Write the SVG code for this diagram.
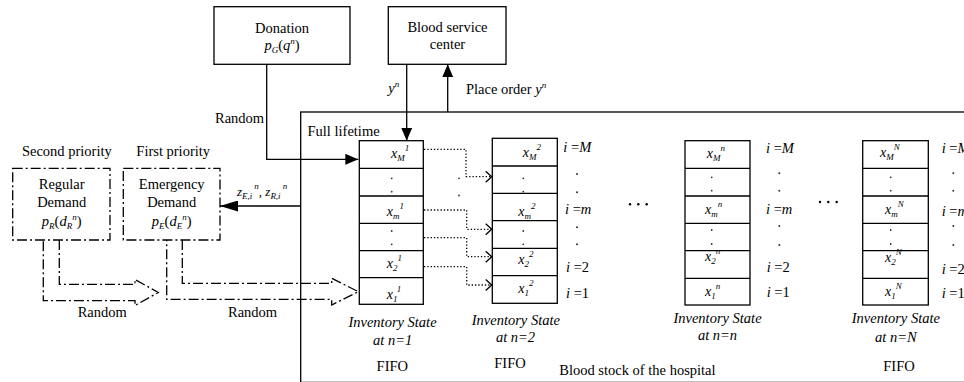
<svg xmlns="http://www.w3.org/2000/svg" width="964" height="382" viewBox="0 0 964 382">
<style>
text{font-family:"Liberation Serif","Times New Roman",serif;fill:#000}
.t{font-size:14.5px}
.c{text-anchor:middle}
.i{font-style:italic}
.m{font-size:14px;font-style:italic}
.s{font-size:9px}
.z{font-size:13px;font-style:italic}
.box{fill:#fff;stroke:#000;stroke-width:1.3}
.open{fill:none;stroke:#000;stroke-width:1.3}
.dd{fill:none;stroke:#000;stroke-width:1.3;stroke-dasharray:10 3 2 3}
.ln{fill:none;stroke:#000;stroke-width:1.3}
.dot{fill:none;stroke:#000;stroke-width:1.3;stroke-dasharray:1.3 2}
.cell{fill:none;stroke:#000;stroke-width:1.3}
.pt{fill:#333}
</style>
<defs>
<marker id="ah" markerUnits="userSpaceOnUse" markerWidth="13" markerHeight="11" refX="13" refY="5.5" orient="auto"><path d="M0,0 L13,5.5 L0,11 z" fill="#000"/></marker>
<marker id="ahz" markerUnits="userSpaceOnUse" markerWidth="18" markerHeight="11" refX="18" refY="5.5" orient="auto"><path d="M0,0 L18,5.5 L0,11 z" fill="#000"/></marker>
<marker id="ch" markerUnits="userSpaceOnUse" markerWidth="8" markerHeight="13" refX="7" refY="6.5" orient="auto" overflow="visible"><path d="M1,1 L7,6.5 L1,12" fill="none" stroke="#000" stroke-width="1.3" stroke-dasharray="none"/></marker>
</defs>

<g id="hospital">
<rect x="300.7" y="112" width="700" height="270.4" class="open"/>
<text class="t" x="307.5" y="136">Full lifetime</text>
<text class="t" x="559.3" y="374.5">Blood stock of the hospital</text>
</g>

<g id="donation">
<rect x="214" y="6.7" width="136" height="57.6" class="box"/>
<text class="t c" x="282" y="32.5">Donation</text>
<text class="t c" x="282" y="50"><tspan class="i">p</tspan><tspan class="s i" dy="3">G</tspan><tspan dy="-3">(</tspan><tspan class="i">q</tspan><tspan class="s i" dy="-6">n</tspan><tspan dy="6">)</tspan></text>
</g>

<g id="blood-service-center">
<rect x="388.3" y="6.7" width="117.7" height="57.6" class="box"/>
<text class="t c" x="447.5" y="31.7">Blood service</text>
<text class="t c" x="447.5" y="48.8">center</text>
</g>

<g id="regular-demand">
<text class="t c" x="66.8" y="156">Second priority</text>
<rect x="12.7" y="168.3" width="97.3" height="71.7" class="dd"/>
<text class="t c" x="61.7" y="189.3">Regular</text>
<text class="t c" x="61.7" y="207">Demand</text>
<text class="t c" x="61.7" y="225.5"><tspan class="i">p</tspan><tspan class="s i" dy="3">R</tspan><tspan dy="-3">(</tspan><tspan class="i">d</tspan><tspan class="s i" dy="3">R</tspan><tspan class="s i" dy="-9">n</tspan><tspan dy="6">)</tspan></text>
</g>

<g id="emergency-demand">
<text class="t c" x="173.2" y="156">First priority</text>
<rect x="123.3" y="168.3" width="96.7" height="71.7" class="dd"/>
<text class="t c" x="171.7" y="189.3">Emergency</text>
<text class="t c" x="171.7" y="207">Demand</text>
<text class="t c" x="171.7" y="225.5"><tspan class="i">p</tspan><tspan class="s i" dy="3">E</tspan><tspan dy="-3">(</tspan><tspan class="i">d</tspan><tspan class="s i" dy="3">E</tspan><tspan class="s i" dy="-9">n</tspan><tspan dy="6">)</tspan></text>
</g>

<g id="inventory-n1">
<rect x="359.3" y="140.7" width="64" height="163.6" class="cell"/>
<path class="cell" d="M359.3,168.3H423.3M359.3,196H423.3M359.3,223.3H423.3M359.3,250.7H423.3M359.3,277.7H423.3"/>
<text class="m" x="391" y="158">x<tspan class="s" dy="3">M</tspan><tspan class="s" dy="-10">1</tspan></text>
<circle class="pt" cx="391.7" cy="178.3" r="0.9"/><circle class="pt" cx="391.7" cy="191.7" r="0.9"/>
<text class="m" x="386.7" y="216">x<tspan class="s" dy="3">m</tspan><tspan class="s" dy="-10">1</tspan></text>
<circle class="pt" cx="391.7" cy="231" r="0.9"/><circle class="pt" cx="391.7" cy="244.3" r="0.9"/>
<text class="m" x="386.7" y="268">x<tspan class="s" dy="3">2</tspan><tspan class="s" dy="-10">1</tspan></text>
<text class="m" x="386.7" y="299">x<tspan class="s" dy="2.5">1</tspan><tspan class="s" dy="-9.5">1</tspan></text>
<text class="t c i" x="392.5" y="326.7">Inventory State</text>
<text class="t c i" x="392.7" y="345">at n=1</text>
<text class="t c" x="392.3" y="370.7">FIFO</text>
</g>

<g id="inventory-n2">
<rect x="492.3" y="138.3" width="65" height="165" class="cell"/>
<path class="cell" d="M492.3,166H557.3M492.3,193.3H557.3M492.3,220.7H557.3M492.3,248.3H557.3M492.3,275.7H557.3"/>
<text class="m" x="522.7" y="157">x<tspan class="s" dy="3">M</tspan><tspan class="s" dy="-10">2</tspan></text>
<circle class="pt" cx="523.3" cy="178.3" r="0.9"/><circle class="pt" cx="523.3" cy="191.7" r="0.9"/>
<text class="m" x="518.3" y="215.7">x<tspan class="s" dy="3">m</tspan><tspan class="s" dy="-10">2</tspan></text>
<circle class="pt" cx="523.3" cy="231" r="0.9"/><circle class="pt" cx="523.3" cy="244.3" r="0.9"/>
<text class="m" x="518.3" y="264">x<tspan class="s" dy="3">2</tspan><tspan class="s" dy="-10">2</tspan></text>
<text class="m" x="518.3" y="293">x<tspan class="s" dy="2.5">1</tspan><tspan class="s" dy="-9.5">2</tspan></text>
<text class="t" x="563.3" y="152"><tspan class="i">i</tspan> =<tspan class="i">M</tspan></text>
<circle class="pt" cx="577" cy="174" r="1"/><circle class="pt" cx="577" cy="192.3" r="1"/>
<text class="t" x="565" y="214.3"><tspan class="i">i</tspan> =<tspan class="i">m</tspan></text>
<circle class="pt" cx="577" cy="227.3" r="1"/><circle class="pt" cx="577" cy="244.3" r="1"/>
<text class="t" x="566" y="271.7"><tspan class="i">i</tspan> =2</text>
<text class="t" x="566" y="298"><tspan class="i">i</tspan> =1</text>
<text class="t c i" x="515.8" y="325">Inventory State</text>
<text class="t c i" x="515.5" y="341.7">at n=2</text>
<text class="t c" x="510" y="368.3">FIFO</text>
</g>

<g id="inventory-nn">
<rect x="685" y="140.7" width="65" height="164.3" class="cell"/>
<path class="cell" d="M685,168.3H750M685,196H750M685,223.3H750M685,250.7H750M685,278.3H750"/>
<text class="m" x="706.7" y="158.3">x<tspan class="s" dy="3">M</tspan><tspan class="s" dy="-10">n</tspan></text>
<circle class="pt" cx="711.7" cy="177.3" r="0.9"/><circle class="pt" cx="711.7" cy="190.7" r="0.9"/>
<text class="m" x="705" y="214.3">x<tspan class="s" dy="3">m</tspan><tspan class="s" dy="-10">n</tspan></text>
<circle class="pt" cx="711.7" cy="230" r="0.9"/><circle class="pt" cx="711.7" cy="244" r="0.9"/>
<text class="m" x="705" y="261">x<tspan class="s" dy="3">2</tspan><tspan class="s" dy="-10">n</tspan></text>
<text class="m" x="705" y="296">x<tspan class="s" dy="2.5">1</tspan><tspan class="s" dy="-9.5">n</tspan></text>
<text class="t" x="766" y="152.5"><tspan class="i">i</tspan> =<tspan class="i">M</tspan></text>
<circle class="pt" cx="779.3" cy="173.3" r="1"/><circle class="pt" cx="779.3" cy="190.7" r="1"/>
<text class="t" x="766" y="214.3"><tspan class="i">i</tspan> =<tspan class="i">m</tspan></text>
<circle class="pt" cx="779.3" cy="226" r="1"/><circle class="pt" cx="779.3" cy="245" r="1"/>
<text class="t" x="766.7" y="272"><tspan class="i">i</tspan> =2</text>
<text class="t" x="766.7" y="297"><tspan class="i">i</tspan> =1</text>
<text class="t c i" x="717.5" y="323.3">Inventory State</text>
<text class="t c i" x="717.5" y="340">at n=n</text>
</g>

<g id="inventory-nN">
<rect x="862.7" y="140.7" width="65.6" height="164.3" class="cell"/>
<path class="cell" d="M862.7,168.3H928.3M862.7,196H928.3M862.7,223.3H928.3M862.7,250.7H928.3M862.7,278.3H928.3"/>
<text class="m" x="880" y="157">x<tspan class="s" dy="3">M</tspan><tspan class="s" dy="-10">N</tspan></text>
<circle class="pt" cx="890.7" cy="177.3" r="0.9"/><circle class="pt" cx="890.7" cy="190.7" r="0.9"/>
<text class="m" x="885" y="214">x<tspan class="s" dy="3">m</tspan><tspan class="s" dy="-10">N</tspan></text>
<circle class="pt" cx="890.7" cy="230" r="0.9"/><circle class="pt" cx="890.7" cy="244" r="0.9"/>
<text class="m" x="885" y="262">x<tspan class="s" dy="3">2</tspan><tspan class="s" dy="-10">N</tspan></text>
<text class="m" x="885" y="296">x<tspan class="s" dy="2.5">1</tspan><tspan class="s" dy="-9.5">N</tspan></text>
<text class="t" x="941.7" y="153"><tspan class="i">i</tspan> =<tspan class="i">M</tspan></text>
<circle class="pt" cx="953.3" cy="173.3" r="1"/><circle class="pt" cx="953.3" cy="190.7" r="1"/>
<text class="t" x="941.7" y="216"><tspan class="i">i</tspan> =<tspan class="i">m</tspan></text>
<circle class="pt" cx="953.3" cy="226" r="1"/><circle class="pt" cx="953.3" cy="245" r="1"/>
<text class="t" x="941.7" y="274"><tspan class="i">i</tspan> =2</text>
<text class="t" x="941.7" y="298"><tspan class="i">i</tspan> =1</text>
<text class="t c i" x="895.8" y="323.3">Inventory State</text>
<text class="t c i" x="895.8" y="341.7">at n=N</text>
<text class="t c" x="899" y="370.7">FIFO</text>
</g>

<g id="ellipses">
<circle cx="630" cy="204.3" r="1.2"/><circle cx="638.3" cy="204.3" r="1.2"/><circle cx="646.7" cy="204.3" r="1.2"/>
<circle cx="820" cy="202" r="1.2"/><circle cx="828.3" cy="202" r="1.2"/><circle cx="836.7" cy="202" r="1.2"/>
<circle class="pt" cx="459" cy="178.3" r="0.9"/><circle class="pt" cx="459" cy="195.5" r="0.9"/>
</g>

<g id="connectors">
<path class="ln" d="M266.7,64.3V159.3H358.3" marker-end="url(#ah)"/>
<text class="t" x="215" y="123">Random</text>
<path class="ln" d="M406.7,64.3V140.7" marker-end="url(#ah)"/>
<text class="t" x="388.3" y="93"><tspan class="i">y</tspan><tspan class="s i" dy="-6">n</tspan></text>
<path class="ln" d="M447.7,112V64.3" marker-end="url(#ah)"/>
<text class="t" x="466" y="93.5">Place order <tspan class="i">y</tspan><tspan class="s i" dy="-6">n</tspan></text>
<path class="ln" d="M300.7,206H220" marker-end="url(#ahz)"/>
<text class="z" x="237" y="196">z<tspan class="s" dy="3">E,i</tspan><tspan class="s" dx="2" dy="-10">n</tspan><tspan dy="7" font-style="normal">, </tspan>z<tspan class="s" dy="3">R,i</tspan><tspan class="s" dx="2" dy="-10">n</tspan></text>
<path class="dot" d="M424,149.3H466V176.7H491.7" marker-end="url(#ch)"/>
<path class="dot" d="M424,210H466.7V229.3H491.7" marker-end="url(#ch)"/>
<path class="dot" d="M424,237.7H466.7V256.7H491.7" marker-end="url(#ch)"/>
<path class="dot" d="M424,266.7H466.7V285H491.7" marker-end="url(#ch)"/>
<path class="dd" d="M59.3,240V284.3H135V279.5L158.3,292.5L135,305.5V300.7H43.3V240"/>
<text class="t" x="77.7" y="317.3">Random</text>
<path class="dd" d="M182.3,240V283.3H331.7V278.3L358.3,291.7L331.7,305V299.3H166.7V240"/>
<text class="t" x="228" y="317.3">Random</text>
</g>
</svg>
